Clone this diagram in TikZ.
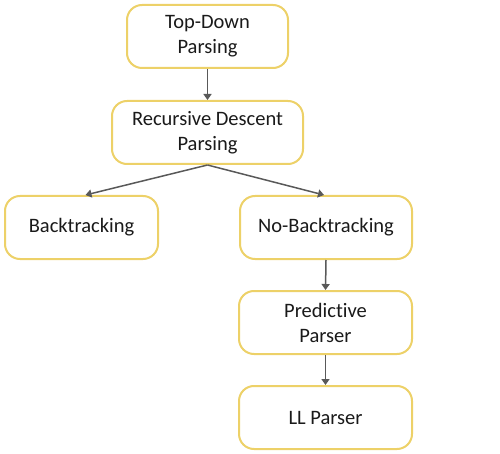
\documentclass[tikz,border=0pt]{standalone}
\usepackage{fontspec}
\setmainfont[Ligatures={NoCommon}]{Carlito}
\usetikzlibrary{arrows.meta}
\definecolor{boxline}{HTML}{EDD168}
\definecolor{arrowgray}{HTML}{595959}
\definecolor{txt}{HTML}{1A1A1A}
\tikzset{
  x=1pt,y=-1pt,
  pbox/.style={draw=boxline, line width=2pt, fill=white, rounded corners=15pt,
    minimum height=63pt, align=center, font=\fontsize{20.5}{25}\selectfont, text=txt, inner sep=0pt},
  conn/.style={draw=arrowgray, line width=1.5pt, -{Triangle[length=6pt,width=8pt]}}
}
\begin{document}
\begin{tikzpicture}
\useasboundingbox (0,0) rectangle (500,454);
\node[pbox, minimum width=161pt] (td) at (207.5,36.5) {Top-Down\\Parsing};
\node[pbox, minimum width=191pt] (rd) at (207.5,132.5) {Recursive Descent\\Parsing};
\node[pbox, minimum width=153pt] (bt) at (81.5,227.5) {Backtracking};
\node[pbox, minimum width=172pt] (nb) at (326,227.5) {No-Backtracking};
\node[pbox, minimum width=173pt] (pp) at (325.5,322.5) {Predictive\\Parser};
\node[pbox, minimum width=173pt] (ll) at (325.5,417.5) {LL Parser};
\draw[conn] (td.south) -- (rd.north);
\draw[conn] (rd.south) -- ([xshift=4pt]bt.north);
\draw[conn] (rd.south) -- ([xshift=-2pt]nb.north);
\draw[conn] (nb.south) -- (pp.north);
\draw[conn] (pp.south) -- (ll.north);
\end{tikzpicture}
\end{document}
